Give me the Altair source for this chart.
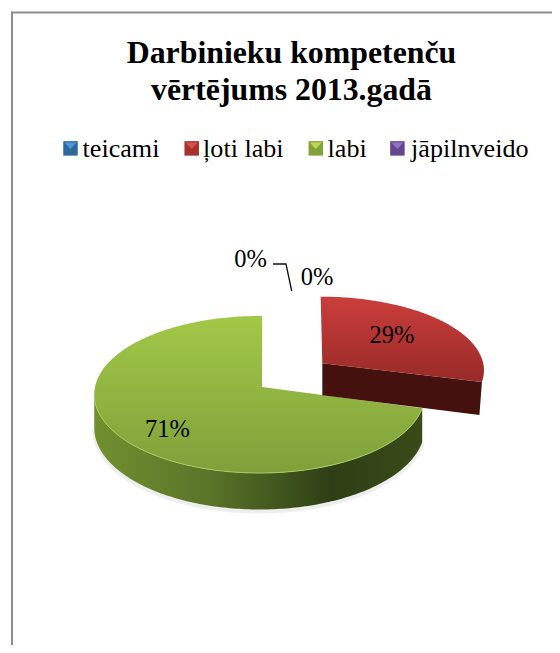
import math
import altair as alt
import pandas as pd

# --- chart values ---
categories = ["teicami", "ļoti labi", "labi", "jāpilnveido"]
shares = [0, 29, 71, 0]
title_lines = ["Darbinieku kompetenču", "vērtējums 2013.gadā"]

# --- styling / layout ---
legend_colors = ["#2f689f", "#a8302e", "#83a03a", "#65478f"]
bevel_colors = ["#4f97dc", "#d9504c", "#b9da4e", "#9272c8"]
key_x = [70.5, 191.7, 315.8, 397.4]
key_y = [148.4, 148.4, 148.4, 148.4]
bevel_y = [146, 146, 146, 146]
SERIF = "Liberation Serif"
PAGE_W, PAGE_H = 552, 645   # drawn area, in page pixels
P = 0.0955          # perspective of the tilted disc


def disc_point(a_deg, cx, cy, R, K):
    a = math.radians(a_deg)
    u, v = R * math.sin(a), K * math.cos(a)
    s = 1 / (1 + P * math.cos(a))
    return cx + u * s, cy - v * s, s


def arc(a0, a1, cx, cy, R, K):
    n = max(2, int(abs(a1 - a0)) + 1)
    return [disc_point(a0 + (a1 - a0) * i / (n - 1), cx, cy, R, K) for i in range(n)]


def polygon(points):
    return pd.DataFrame({"x": [p[0] for p in points], "y": [p[1] for p in points],
                         "i": list(range(len(points)))})


red_sweep = shares[1] / 100 * 360
green_sweep = shares[2] / 100 * 360
ROT = 1.0
DEPTH = 33

# green slice
g_apex = (262, 387)
g_arc = arc(red_sweep + ROT, red_sweep + ROT + green_sweep, 259.5, 387, 164.5, 77.8)
green_top = polygon([g_apex] + [p[:2] for p in g_arc])
g_side_arc = arc(red_sweep + ROT, 264.5, 259.5, 387, 164.5, 77.8)
green_side = pd.DataFrame({"x": [p[0] for p in g_side_arc], "y": [p[1] for p in g_side_arc],
                           "y2": [p[1] + DEPTH * p[2] for p in g_side_arc]})
rim = polygon([p[:2] for p in g_side_arc])
shadow = pd.DataFrame({"x": [p[0] for p in g_side_arc],
                       "y": [p[1] + DEPTH * p[2] + 2 for p in g_side_arc],
                       "i": list(range(len(g_side_arc)))})

# red slice
r_apex = (322.3, 363.3)
r_arc = arc(0, red_sweep, 320.7, 363.3, 162.5, 73)
red_top = polygon([r_apex] + [p[:2] for p in r_arc])
r_end = r_arc[-1]
red_side = polygon([r_apex, r_end[:2], (r_end[0] - 2.5, r_end[1] + DEPTH), (322.3, 363.3 + 32)])

xs = alt.Scale(domain=[8, PAGE_W], range=[0, PAGE_W - 8])
ys = alt.Scale(domain=[8, PAGE_H], range=[0, PAGE_H - 8])
X = alt.X("x:Q", scale=xs, axis=None)
Y = alt.Y("y:Q", scale=ys, axis=None)


def grad(stops, vertical=True):
    return alt.LinearGradient(
        gradient="linear",
        stops=[alt.GradientStop(offset=o, color=c) for o, c in stops],
        x1=0, x2=0 if vertical else 1, y1=0, y2=1 if vertical else 0)


def filled(df, fill):
    return alt.Chart(df).mark_line(fill=fill, strokeWidth=0).encode(x=X, y=Y, order="i:Q")


layers = []
# frame
layers.append(alt.Chart(pd.DataFrame({"k": [0]})).mark_rule(color="#8f8f8f", strokeWidth=2).encode(
    x=alt.value(4), y=alt.value(3.6), y2=alt.value(PAGE_H - 8)))
layers.append(alt.Chart(pd.DataFrame({"k": [0]})).mark_rule(color="#8f8f8f", strokeWidth=2).encode(
    x=alt.value(3), x2=alt.value(PAGE_W - 8), y=alt.value(4.5)))
# soft shadow
layers.append(alt.Chart(shadow).mark_line(color="#cfcfcf", strokeWidth=4, opacity=0.35).encode(
    x=X, y=Y, order="i:Q"))
# green side and top
layers.append(alt.Chart(green_side).mark_area(
    color=grad([(0, "#71902f"), (0.35, "#5a7428"), (0.72, "#2e3f15"), (1, "#3a4a18")], vertical=False)
).encode(x=X, y=Y, y2="y2:Q"))
layers.append(filled(green_top, grad([(0, "#a2c848"), (1, "#7fa03a")])))
layers.append(alt.Chart(rim).mark_line(color="#a9cc5c", strokeWidth=1).encode(x=X, y=Y, order="i:Q"))
# red side and top
layers.append(filled(red_side, "#45110f"))
layers.append(filled(red_top, grad([(0, "#cb3e3b"), (1, "#982a28")])))

# leader line
leader_x, leader_y = [273, 286, 291.7], [264, 264, 291]
layers.append(alt.Chart(pd.DataFrame({"x": leader_x, "y": leader_y, "i": [0, 1, 2]})).mark_line(
    color="#111111", strokeWidth=1.3).encode(x=X, y=Y, order="i:Q"))

# data labels, in category order
label_x, label_y = [317, 392, 167.5, 250.5], [285, 343, 437, 267]
labels = pd.DataFrame({"x": label_x, "y": label_y, "t": [f"{s}%" for s in shares]})
layers.append(alt.Chart(labels).mark_text(font=SERIF, fontSize=24.5, color="black", baseline="alphabetic").encode(
    x=X, y=Y, text="t:N"))

# legend: labels from the real legend, its keys redrawn above with a bevel
legend_df = pd.DataFrame({"cat": categories, "x": key_x, "y": key_y})
layers.append(alt.Chart(legend_df).mark_square(size=210, opacity=1).encode(
    x=X, y=Y,
    color=alt.Color("cat:N", sort=categories,
                    scale=alt.Scale(domain=categories, range=legend_colors),
                    legend=alt.Legend(orient="none", legendX=48.5, legendY=127.4, direction="horizontal",
                                      columns=4, title=None, symbolType="square", symbolSize=210,
                                      symbolStrokeWidth=0, symbolOpacity=0,
                                      labelFont=SERIF, labelFontSize=26.1, labelColor="black",
                                      labelLimit=300, labelOffset=0, columnPadding=17.5, padding=0))))

bevel_df = pd.DataFrame({"x": key_x, "y": bevel_y, "b": bevel_colors})
layers.append(alt.Chart(bevel_df).mark_point(
    shape="M-1,-0.6L1,-0.6L0,0.5Z", filled=True, size=144, opacity=1, strokeWidth=0
).encode(x=X, y=Y, fill=alt.Fill("b:N", scale=None)))

chart = alt.layer(*layers).properties(
    width=PAGE_W - 8, height=PAGE_H - 8, padding=0,
    autosize=alt.AutoSizeParams(type="none"),
    background="white",
    title=alt.TitleParams(text=title_lines, font=SERIF, fontSize=31.8, fontWeight="bold", color="black",
                          anchor="middle", frame="group", offset=-99, dx=11.5, lineHeight=37.7),
).configure_view(stroke=None)

chart.save("out.html", embed_options={"renderer": "svg", "actions": False})
